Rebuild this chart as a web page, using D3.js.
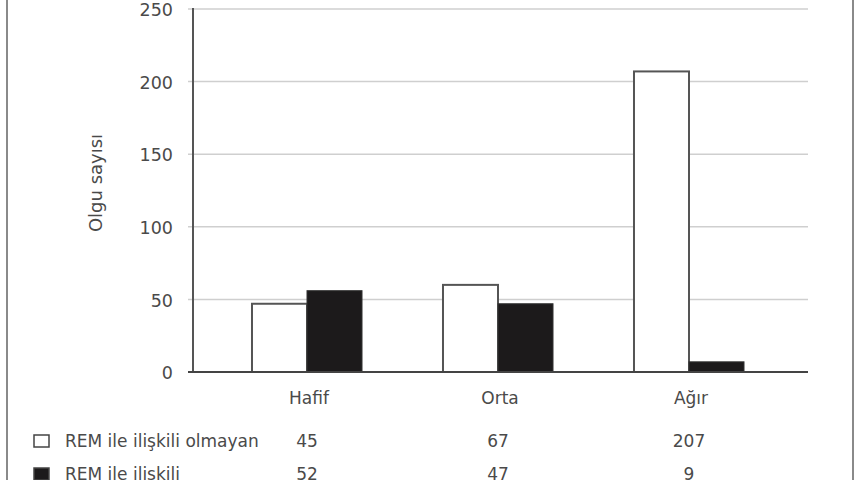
<!DOCTYPE html>
<html>
<head>
<meta charset="utf-8">
<script src="https://cdn.jsdelivr.net/npm/d3@7"></script>
<style>
  body { margin: 0; background: #fff; }
  text { font-family: "DejaVu Sans", sans-serif; fill: #4a4a4a; }
</style>
</head>
<body>
<svg id="vis"></svg>
<script>
// data
var categories = ["Hafif", "Orta", "Ağır"];
var seriesNames = ["REM ile ilişkili olmayan", "REM ile ilişkili"];
var barsNonRem = [47, 60, 207];   // bar heights as drawn
var barsRem = [56, 47, 7];
var tableNonRem = [45, 67, 207];  // numbers printed in the table
var tableRem = [52, 47, 9];
var yTicks = [0, 50, 100, 150, 200, 250];

var width = 860, height = 480;

var svg = d3.select("#vis")
    .attr("width", width)
    .attr("height", height);

// frame lines on the sides
svg.append("line")
    .attr("x1", 7).attr("x2", 7).attr("y1", 0).attr("y2", height)
    .attr("stroke", "#8a8a8a").attr("stroke-width", 2);
svg.append("line")
    .attr("x1", 853).attr("x2", 853).attr("y1", 0).attr("y2", height)
    .attr("stroke", "#8a8a8a").attr("stroke-width", 2);

//scales
var y = d3.scaleLinear()
    .domain([0, 250])
    .range([372, 9]);
var x = d3.scaleBand()
    .domain(categories)
    .range([211.5, 784.5])
    .paddingInner(0.424)
    .paddingOuter(0.212);
var xs = d3.scaleBand()
    .domain([0, 1])
    .range([0, x.bandwidth()]);

var axisLeft = 193, gridLeft = 188, gridRight = 808;

// gridlines
svg.append("g").selectAll(".grid")
    .data(yTicks.filter(function(d) {return d > 0;}))
    .enter().append("line")
    .attr("x1", gridLeft)
    .attr("x2", gridRight)
    .attr("y1", function(d) {return y(d);})
    .attr("y2", function(d) {return y(d);})
    .attr("stroke", "#cfcfcf")
    .attr("stroke-width", 1.5);

// y tick labels
svg.append("g").selectAll(".ytick")
    .data(yTicks)
    .enter().append("text")
    .text(function(d) {return d;})
    .attr("x", 173)
    .attr("y", function(d) {return y(d) + 1;})
    .attr("dy", ".35em")
    .attr("text-anchor", "end")
    .style("font-size", "17.5px");

// y axis title
svg.append("text")
    .text("Olgu sayısı")
    .attr("transform", "translate(102,183) rotate(-90)")
    .attr("text-anchor", "middle")
    .style("font-size", "18px");

// bars
var groups = svg.append("g").selectAll(".cat")
    .data(categories)
    .enter().append("g")
    .attr("transform", function(d) {return "translate(" + x(d) + ",0)";});

groups.append("rect")
    .attr("x", xs(0))
    .attr("width", xs.bandwidth())
    .attr("y", function(d, i) {return y(barsNonRem[i]);})
    .attr("height", function(d, i) {return y(0) - y(barsNonRem[i]);})
    .attr("fill", "#fff")
    .attr("stroke", "#555")
    .attr("stroke-width", 2);

groups.append("rect")
    .attr("x", xs(1))
    .attr("width", xs.bandwidth())
    .attr("y", function(d, i) {return y(barsRem[i]);})
    .attr("height", function(d, i) {return y(0) - y(barsRem[i]);})
    .attr("fill", "#1c1a1b")
    .attr("stroke", "#333")
    .attr("stroke-width", 1);

// y axis and baseline
svg.append("line")
    .attr("x1", axisLeft).attr("x2", axisLeft)
    .attr("y1", y(250) - 1).attr("y2", y(0))
    .attr("stroke", "#555").attr("stroke-width", 2);
svg.append("line")
    .attr("x1", gridLeft).attr("x2", gridRight)
    .attr("y1", y(0)).attr("y2", y(0))
    .attr("stroke", "#444").attr("stroke-width", 2);

// category labels
svg.append("g").selectAll(".xlab")
    .data(categories)
    .enter().append("text")
    .text(function(d) {return d;})
    .attr("x", function(d) {return x(d) + x.bandwidth() / 2 + 2;})
    .attr("y", 398)
    .attr("dy", ".35em")
    .attr("text-anchor", "middle")
    .style("font-size", "17px");

// table rows with legend keys
var rows = [
    {name: seriesNames[0], values: tableNonRem, fill: "#fff", y: 441},
    {name: seriesNames[1], values: tableRem, fill: "#1c1a1b", y: 474}
];

rows.forEach(function(r) {
    svg.append("rect")
        .attr("x", 34).attr("y", r.y - 6)
        .attr("width", 15).attr("height", 12)
        .attr("fill", r.fill)
        .attr("stroke", "#444")
        .attr("stroke-width", 1.5);
    svg.append("text")
        .text(r.name)
        .attr("x", 65).attr("y", r.y)
        .attr("dy", ".35em")
        .style("font-size", "17px");
    svg.append("g").selectAll(".val")
        .data(r.values)
        .enter().append("text")
        .text(function(d) {return d;})
        .attr("x", function(d, i) {return x(categories[i]) + x.bandwidth() / 2;})
        .attr("y", r.y)
        .attr("dy", ".35em")
        .attr("text-anchor", "middle")
        .style("font-size", "17px");
});
</script>
</body>
</html>
